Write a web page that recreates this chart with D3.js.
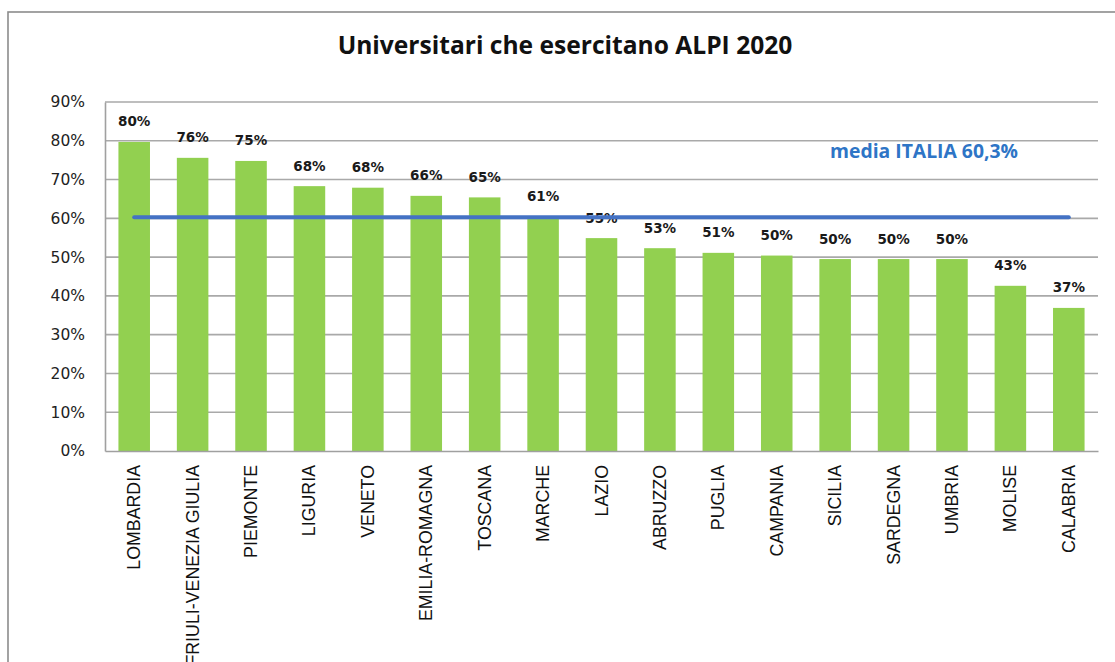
<!DOCTYPE html>
<html>
<head>
<meta charset="utf-8">
<script src="https://cdn.jsdelivr.net/npm/d3@7"></script>
<style>
  html, body { margin: 0; padding: 0; background: #fff; }
  svg { display: block; }
</style>
</head>
<body>
<svg id="chart" width="1115" height="662"></svg>
<script>
const categories = ["LOMBARDIA","FRIULI-VENEZIA GIULIA","PIEMONTE","LIGURIA","VENETO","EMILIA-ROMAGNA","TOSCANA","MARCHE","LAZIO","ABRUZZO","PUGLIA","CAMPANIA","SICILIA","SARDEGNA","UMBRIA","MOLISE","CALABRIA"];
const values = [0.797, 0.756, 0.748, 0.683, 0.679, 0.658, 0.654, 0.606, 0.549, 0.523, 0.511, 0.504, 0.495, 0.495, 0.495, 0.426, 0.369];
const valueLabels = ["80%","76%","75%","68%","68%","66%","65%","61%","55%","53%","51%","50%","50%","50%","50%","43%","37%"];
const yTicks = [0, 0.1, 0.2, 0.3, 0.4, 0.5, 0.6, 0.7, 0.8, 0.9];
const mediaItalia = 0.603;
const mediaLabel = "media ITALIA 60,3%";
const title = "Universitari che esercitano ALPI 2020";

const svg = d3.select("#chart");
const plot = { left: 105, right: 1098, top: 102, bottom: 451 };

// outer frame
svg.append("rect").attr("x", 8).attr("y", 12).attr("width", 1130).attr("height", 700)
  .attr("fill", "none").attr("stroke", "#8c8c8c").attr("stroke-width", 1.6);

const x = d3.scaleBand().domain(categories).range([plot.left, plot.right]).paddingInner(0.46).paddingOuter(0.23);
const y = d3.scaleLinear().domain([0, 0.9]).range([plot.bottom, plot.top]);

// gridlines
svg.append("g").selectAll("line").data(yTicks.filter(d => d > 0)).join("line")
  .attr("x1", plot.left).attr("x2", plot.right)
  .attr("y1", d => y(d)).attr("y2", d => y(d))
  .attr("stroke", "#a9a9a9").attr("stroke-width", 1.6);

// y axis
const yAxis = d3.axisLeft(y).tickValues(yTicks).tickFormat(d3.format(".0%")).tickSize(0).tickPadding(20);
const gy = svg.append("g").attr("transform", `translate(${plot.left},0)`).call(yAxis);
gy.select(".domain").attr("stroke", "#a0a0a0").attr("stroke-width", 1.6);
gy.selectAll("text").attr("font-family", "DejaVu Sans, Verdana, sans-serif").attr("font-size", 15.5).attr("fill", "#222");

// bars
svg.append("g").selectAll("rect").data(categories).join("rect")
  .attr("x", d => x(d)).attr("width", x.bandwidth())
  .attr("y", (d, i) => y(values[i])).attr("height", (d, i) => y(0) - y(values[i]))
  .attr("fill", "#92d050");

// x axis
const xAxis = d3.axisBottom(x).tickSize(0).tickPadding(0);
const gx = svg.append("g").attr("transform", `translate(0,${plot.bottom})`).call(xAxis);
gx.select(".domain").attr("stroke", "#a0a0a0").attr("stroke-width", 1.6);
gx.selectAll("text")
  .attr("font-family", "Liberation Sans, Arial, sans-serif").attr("font-size", 17.8).attr("fill", "#111")
  .attr("text-anchor", "end").attr("dy", null)
  .attr("transform", "translate(0,14) rotate(-90)")
  .attr("dominant-baseline", "central");

// data labels
svg.append("g").selectAll("text").data(categories).join("text")
  .attr("x", d => x(d) + x.bandwidth() / 2)
  .attr("y", (d, i) => y(values[i]) - 15.5)
  .attr("text-anchor", "middle")
  .attr("font-family", "DejaVu Sans, Verdana, sans-serif").attr("font-weight", "bold")
  .attr("font-size", 13.5).attr("fill", "#1a1a1a")
  .text((d, i) => valueLabels[i]);

// average line
const first = categories[0], last = categories[categories.length - 1];
svg.append("line")
  .attr("x1", x(first) + x.bandwidth() / 2).attr("x2", x(last) + x.bandwidth() / 2)
  .attr("y1", y(mediaItalia)).attr("y2", y(mediaItalia))
  .attr("stroke", "#4472c4").attr("stroke-width", 4).attr("stroke-linecap", "round");

const ml = svg.append("text").attr("x", 924).attr("y", 158).attr("text-anchor", "middle")
  .attr("font-family", "Open Sans, sans-serif").attr("font-weight", "bold").attr("font-size", 17)
  .attr("fill", "#2e75c6").text(mediaLabel);
const mlw = ml.node().getComputedTextLength();
ml.attr("font-size", 17 * 188 / mlw);

// title
const t = svg.append("text").attr("x", 565).attr("y", 54).attr("text-anchor", "middle")
  .attr("font-family", "Open Sans, sans-serif").attr("font-weight", "bold").attr("font-size", 25)
  .attr("fill", "#111").text(title);
const tw = t.node().getComputedTextLength();
t.attr("font-size", 25 * 455 / tw);
</script>
</body>
</html>
